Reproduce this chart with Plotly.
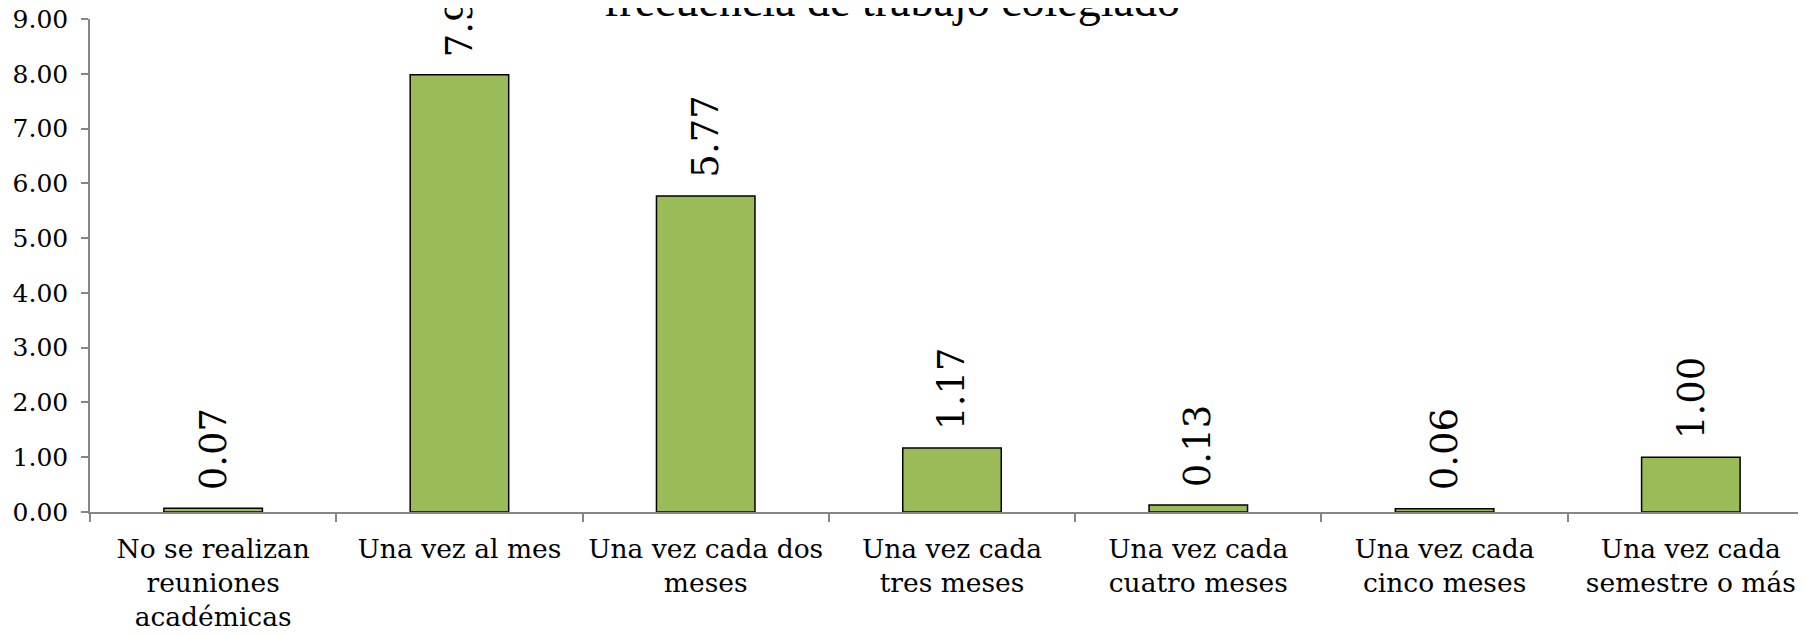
import plotly.graph_objects as go

# Data
categories = [
    "No se realizan<br>reuniones<br>académicas",
    "Una vez al mes",
    "Una vez cada dos<br>meses",
    "Una vez cada<br>tres meses",
    "Una vez cada<br>cuatro meses",
    "Una vez cada<br>cinco meses",
    "Una vez cada<br>semestre o más",
]
values = [0.07, 7.98, 5.77, 1.17, 0.13, 0.06, 1.00]
y_ticks = [0, 1, 2, 3, 4, 5, 6, 7, 8, 9]
title_text = "frecuencia de trabajo colegiado"

fig = go.Figure()

fig.add_trace(go.Bar(
    x=categories,
    y=values,
    marker=dict(color="#9BBB59", line=dict(color="black", width=1.5)),
    hoverinfo="x+y",
))

# rotated value labels above the bars
for cat, val in zip(categories, values):
    fig.add_annotation(
        x=cat, y=val,
        text=f"{val:.2f}",
        textangle=-90,
        showarrow=False,
        xanchor="center", yanchor="bottom",
        yshift=16,
        font=dict(family="DejaVu Serif", size=37, color="black"),
    )

# title, partly cut off at the top as in the original
fig.add_annotation(
    xref="paper", yref="paper",
    x=0.465, y=1.038,
    text=title_text,
    showarrow=False,
    xanchor="center", yanchor="middle",
    font=dict(family="Liberation Serif", size=46, color="black"),
)

fig.update_layout(
    width=1806,
    height=636,
    margin=dict(l=82, r=0, t=11, b=132),
    paper_bgcolor="white",
    plot_bgcolor="white",
    showlegend=False,
    bargap=0.6,
    xaxis=dict(
        automargin=False,
        showline=True,
        linecolor="#868686",
        linewidth=1.5,
        ticks="outside",
        tickson="boundaries",
        ticklen=8,
        tickcolor="#868686",
        tickwidth=1.5,
        showgrid=False,
        tickangle=0,
        ticklabelstandoff=12,
        ticklabeloverflow="allow",
        tickfont=dict(family="DejaVu Serif", size=26.5, color="black"),
    ),
    yaxis=dict(
        automargin=False,
        range=[0, 9],
        tickvals=y_ticks,
        tickformat=".2f",
        showline=True,
        linecolor="#868686",
        linewidth=1.5,
        ticks="outside",
        ticklen=7,
        tickcolor="#868686",
        tickwidth=1.5,
        showgrid=False,
        zeroline=False,
        ticklabelstandoff=8,
        ticklabeloverflow="allow",
        tickfont=dict(family="DejaVu Serif", size=25, color="black"),
    ),
)

fig.write_html("out.html")
